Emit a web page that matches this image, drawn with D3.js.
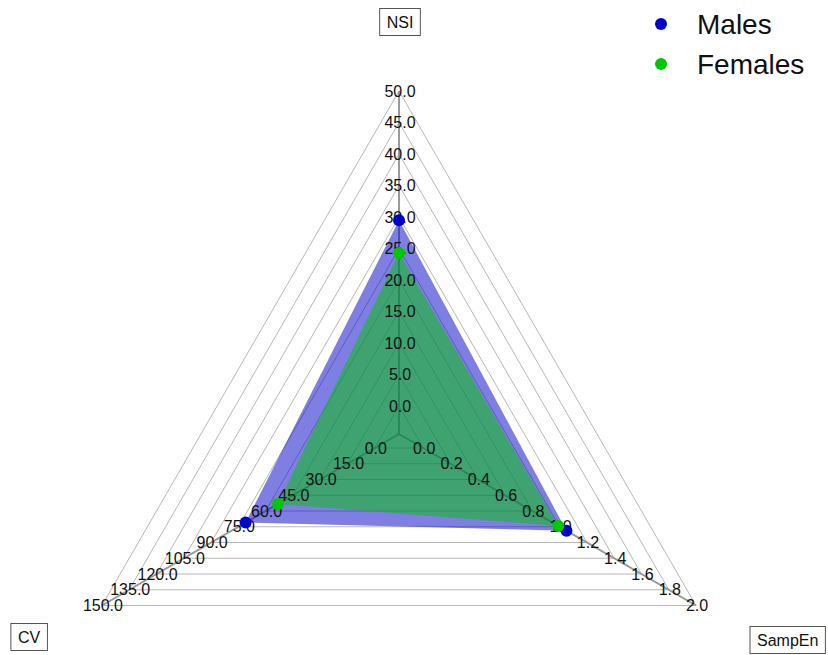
<!DOCTYPE html>
<html>
<head>
<meta charset="utf-8">
<script src="https://cdn.jsdelivr.net/npm/d3@7/dist/d3.min.js"></script>
<style>
  html, body { margin: 0; padding: 0; background: #fff; }
  svg { display: block; font-family: "Liberation Sans", Arial, sans-serif; }
</style>
</head>
<body>
<svg id="chart" width="828" height="655"></svg>
<script>
// Radar axes (clockwise from top)
const axes = ["NSI", "SampEn", "CV"];
const axisMax = [50, 2, 150];
const axisStep = [5, 0.2, 15];

// Series values, in axis order
const seriesNames = ["Males", "Females"];
const males = [29.5, 1.05, 71];
const females = [24.3, 0.99, 53.3];
const seriesColors = ["#0000c8", "#00c800"];

const svg = d3.select("#chart");
const cx = 399, cy = 434;
const R = 343, hole = 28;
const levels = 10;

// Angles in SVG coordinates: NSI up, SampEn lower right, CV lower left
const angles = [-90, 30, 150].map(a => a * Math.PI / 180);

const scales = axisMax.map(m => d3.scaleLinear().domain([0, m]).range([hole, R]));

function pt(i, r) {
  return [cx + r * Math.cos(angles[i]), cy + r * Math.sin(angles[i])];
}

// Grid triangles
const gridG = svg.append("g");
d3.range(levels + 1).forEach(k => {
  const r = hole + (R - hole) * k / levels;
  gridG.append("polygon")
    .attr("points", [0, 1, 2].map(i => pt(i, r).join(",")).join(" "))
    .attr("fill", "none")
    .attr("stroke", "#b8b8b8")
    .attr("stroke-width", 1);
});

// Axis spokes
axes.forEach((a, i) => {
  const [x2, y2] = pt(i, R);
  gridG.append("line")
    .attr("x1", cx).attr("y1", cy)
    .attr("x2", x2).attr("y2", y2)
    .attr("stroke", "#999")
    .attr("stroke-width", 2);
});

// Series areas
const seriesData = [males, females];
const line = d3.line();
seriesData.forEach((vals, s) => {
  const pts = vals.map((v, i) => pt(i, scales[i](v)));
  svg.append("path")
    .attr("d", line(pts) + "Z")
    .attr("fill", seriesColors[s])
    .attr("fill-opacity", 0.5)
    .attr("stroke", "none");
});

// Tick labels along each axis
const fmt = d3.format(".1f");
axes.forEach((a, i) => {
  const ticks = d3.range(0, levels + 1).map(k => +(k * axisStep[i]).toFixed(6));
  ticks.forEach(t => {
    const [x, y] = pt(i, scales[i](t));
    svg.append("text")
      .attr("x", x + 1).attr("y", y)
      .attr("text-anchor", "middle")
      .attr("dominant-baseline", "central")
      .attr("font-size", 16)
      .attr("fill", "#111")
      .text(fmt(t));
  });
});

// Series markers
seriesData.forEach((vals, s) => {
  svg.append("g").selectAll("circle")
    .data(vals)
    .join("circle")
    .attr("cx", (v, i) => pt(i, scales[i](v))[0])
    .attr("cy", (v, i) => pt(i, scales[i](v))[1])
    .attr("r", 6)
    .attr("fill", seriesColors[s]);
});

// Boxed axis titles
const titlePos = [
  { x: 400, y: 22, anchor: "middle" },
  { x: 757, y: 640, anchor: "start" },
  { x: 29, y: 637, anchor: "middle" }
];
axes.forEach((a, i) => {
  const p = titlePos[i];
  const t = svg.append("text")
    .attr("x", p.x).attr("y", p.y)
    .attr("text-anchor", p.anchor)
    .attr("dominant-baseline", "central")
    .attr("font-size", 16)
    .attr("fill", "#111")
    .text(a);
  const bb = t.node().getBBox();
  svg.insert("rect", "text")
    .attr("x", bb.x - 7).attr("y", bb.y - 5)
    .attr("width", bb.width + 14).attr("height", bb.height + 10)
    .attr("fill", "#fff")
    .attr("stroke", "#555")
    .attr("stroke-width", 1);
});

// Legend
const legend = svg.append("g");
seriesNames.forEach((n, s) => {
  const y = 24 + s * 40;
  legend.append("circle")
    .attr("cx", 661).attr("cy", y).attr("r", 6)
    .attr("fill", seriesColors[s]);
  legend.append("text")
    .attr("x", 697).attr("y", y)
    .attr("dominant-baseline", "central")
    .attr("font-size", 28)
    .attr("fill", "#111")
    .text(n);
});
</script>
</body>
</html>
